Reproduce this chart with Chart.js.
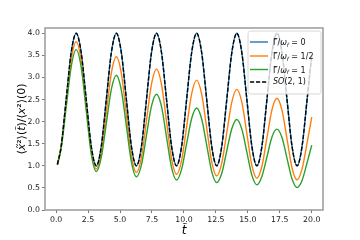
<!DOCTYPE html>
<html>
<head>
<meta charset="utf-8">
<script src="https://cdn.jsdelivr.net/npm/chart.js@4.4.0/dist/chart.umd.min.js"></script>
<style>
    html, body { margin: 0; padding: 0; background: #fff; }
    #wrap { width: 360px; height: 240px; }
</style>
</head>
<body>
<div id="wrap"><canvas id="lineChart" width="360" height="240"></canvas></div>
<script>
// sample times (t tilde)
var tVals = [0.1, 0.393, 0.785, 1.178, 1.571, 1.963, 2.356, 2.749, 3.142,
    3.534, 3.927, 4.32, 4.712, 5.105, 5.498, 5.89, 6.283,
    6.676, 7.069, 7.461, 7.854, 8.247, 8.639, 9.032, 9.425,
    9.817, 10.21, 10.603, 10.996, 11.388, 11.781, 12.174, 12.566,
    12.959, 13.352, 13.744, 14.137, 14.53, 14.923, 15.315, 15.708,
    16.101, 16.493, 16.886, 17.279, 17.671, 18.064, 18.457, 18.85,
    19.242, 19.635, 20.0];

// Gamma/omega_f = 0
var gamma0Vals = [1.03, 1.44, 2.5, 3.56, 4.0, 3.56, 2.5, 1.44, 1.0,
    1.44, 2.5, 3.56, 4.0, 3.56, 2.5, 1.44, 1.0,
    1.44, 2.5, 3.56, 4.0, 3.56, 2.5, 1.44, 1.0,
    1.44, 2.5, 3.56, 4.0, 3.56, 2.5, 1.44, 1.0,
    1.44, 2.5, 3.56, 4.0, 3.56, 2.5, 1.44, 1.0,
    1.44, 2.5, 3.56, 4.0, 3.56, 2.5, 1.44, 1.0,
    1.44, 2.5, 3.5];

// Gamma/omega_f = 1/2
var gammaHalfVals = [1.03, 1.41, 2.41, 3.40, 3.81, 3.39, 2.37, 1.35, 0.93,
    1.30, 2.20, 3.10, 3.47, 3.09, 2.16, 1.23, 0.85,
    1.19, 2.02, 2.85, 3.19, 2.84, 2.00, 1.16, 0.81,
    1.12, 1.88, 2.63, 2.94, 2.62, 1.86, 1.09, 0.77,
    1.06, 1.75, 2.44, 2.73, 2.44, 1.73, 1.01, 0.72,
    0.99, 1.63, 2.27, 2.53, 2.26, 1.61, 0.95, 0.68,
    0.93, 1.52, 2.1];

// Gamma/omega_f = 1
var gammaOneVals = [1.03, 1.39, 2.32, 3.24, 3.63, 3.23, 2.25, 1.27, 0.87,
    1.19, 1.96, 2.73, 3.05, 2.71, 1.90, 1.09, 0.75,
    1.02, 1.69, 2.35, 2.62, 2.34, 1.65, 0.96, 0.68,
    0.92, 1.50, 2.07, 2.31, 2.06, 1.47, 0.87, 0.62,
    0.83, 1.34, 1.84, 2.05, 1.83, 1.31, 0.79, 0.57,
    0.76, 1.20, 1.65, 1.83, 1.64, 1.17, 0.70, 0.51,
    0.67, 1.07, 1.47];

// SO(2,1) prediction, sits right on top of the undamped curve
var so21Vals = [1.03, 1.44, 2.5, 3.56, 4.0, 3.56, 2.5, 1.44, 1.0,
    1.44, 2.5, 3.56, 4.0, 3.56, 2.5, 1.44, 1.0,
    1.44, 2.5, 3.56, 4.0, 3.56, 2.5, 1.44, 1.0,
    1.44, 2.5, 3.56, 4.0, 3.56, 2.5, 1.44, 1.0,
    1.44, 2.5, 3.56, 4.0, 3.56, 2.5, 1.44, 1.0,
    1.44, 2.5, 3.56, 4.0, 3.56, 2.5, 1.44, 1.0,
    1.44, 2.5, 3.5];

// *..* = italic, _*..* = italic subscript
var seriesLabels = ['\u0393\u0303/*\u03c9*_*f* = 0', '\u0393\u0303/*\u03c9*_*f* = 1/2',
    '\u0393\u0303/*\u03c9*_*f* = 1', '*SO*(2, 1)'];
var yTitle = '\u27e8*x\u0303*\u00b2\u27e9(*t\u0303*)/\u27e8*x*\u00b2\u27e9(0)';
var xTitle = '*t\u0303*';
var xTickStep = 2.5;
var yTickStep = 0.5;

var FONT = 'DejaVu Sans';

function parseRuns(str) {
    var out = [], re = /(_?)\*([^*]+)\*|([^*_]+)/g, m;
    while ((m = re.exec(str))) {
        if (m[3]) out.push({ t: m[3], it: false, sub: false });
        else out.push({ t: m[2], it: true, sub: m[1] === '_' });
    }
    return out;
}
function runFont(r, size) {
    return (r.it ? 'italic ' : '') + (r.sub ? size * 0.7 : size) + 'px "' + FONT + '"';
}
function runsWidth(ctx, runs, size) {
    var w = 0;
    runs.forEach(function (r) { ctx.font = runFont(r, size); w += ctx.measureText(r.t).width; });
    return w;
}
function drawRuns(ctx, runs, x, y, size) {
    runs.forEach(function (r) {
        ctx.font = runFont(r, size);
        ctx.fillText(r.t, x, r.sub ? y + size * 0.28 : y);
        x += ctx.measureText(r.t).width;
    });
}

var decorPlugin = {
    id: 'decor',
    afterDraw: function (chart) {
        var ctx = chart.ctx, a = chart.chartArea;
        ctx.save();

        // frame all round, like matplotlib spines
        ctx.strokeStyle = '#9a9a9a';
        ctx.lineWidth = 1.5;
        ctx.strokeRect(a.left, a.top, a.right - a.left, a.bottom - a.top);

        // legend box, top right inside the axes
        var x0 = a.right - 75, y0 = a.top + 3, w = 73, h = 63, r = 2.5;
        ctx.beginPath();
        ctx.moveTo(x0 + r, y0);
        ctx.lineTo(x0 + w - r, y0); ctx.quadraticCurveTo(x0 + w, y0, x0 + w, y0 + r);
        ctx.lineTo(x0 + w, y0 + h - r); ctx.quadraticCurveTo(x0 + w, y0 + h, x0 + w - r, y0 + h);
        ctx.lineTo(x0 + r, y0 + h); ctx.quadraticCurveTo(x0, y0 + h, x0, y0 + h - r);
        ctx.lineTo(x0, y0 + r); ctx.quadraticCurveTo(x0, y0, x0 + r, y0);
        ctx.closePath();
        ctx.fillStyle = 'rgba(255,255,255,0.8)';
        ctx.fill();
        ctx.strokeStyle = '#d6d6d6';
        ctx.lineWidth = 1;
        ctx.stroke();

        var rows = [11, 25, 38.5, 51];
        ctx.textBaseline = 'middle';
        chart.data.datasets.forEach(function (ds, i) {
            var yy = y0 + rows[i];
            ctx.beginPath();
            ctx.setLineDash(ds.borderDash || []);
            ctx.strokeStyle = ds.borderColor;
            ctx.lineWidth = ds.borderWidth;
            ctx.moveTo(x0 + 2, yy);
            ctx.lineTo(x0 + 20, yy);
            ctx.stroke();
            ctx.setLineDash([]);
            ctx.fillStyle = '#111';
            drawRuns(ctx, parseRuns(ds.label), x0 + 25, yy + (i < 3 ? 1 : 0), 8);
        });

        // axis titles
        ctx.fillStyle = '#000';
        var yr = parseRuns(yTitle);
        var yw = runsWidth(ctx, yr, 11);
        ctx.save();
        ctx.translate(a.left - 23, (a.top + a.bottom) / 2);
        ctx.rotate(-Math.PI / 2);
        drawRuns(ctx, yr, -yw / 2, 0, 11);
        ctx.restore();

        var xr = parseRuns(xTitle);
        var xw = runsWidth(ctx, xr, 12);
        drawRuns(ctx, xr, (a.left + a.right) / 2 - xw / 2, a.bottom + 21, 12);

        ctx.restore();
    }
};

function pts(ys) {
    return tVals.map(function (t, i) { return { x: t, y: ys[i] }; });
}

var tickFont = { family: FONT, size: 7.8 };

var ctx = document.getElementById('lineChart').getContext('2d');
var chart = new Chart(ctx, {
    type: 'line',
    data: {
        datasets: [
            { label: seriesLabels[0], data: pts(gamma0Vals), borderColor: '#1f77b4', borderWidth: 1.4, order: 4 },
            { label: seriesLabels[1], data: pts(gammaHalfVals), borderColor: '#ff7f0e', borderWidth: 1.4, order: 3 },
            { label: seriesLabels[2], data: pts(gammaOneVals), borderColor: '#2ca02c', borderWidth: 1.4, order: 2 },
            { label: seriesLabels[3], data: pts(so21Vals), borderColor: '#000000', borderWidth: 1.4, borderDash: [4.2, 1.8], order: 1 }
        ]
    },
    options: {
        responsive: false,
        animation: false,
        devicePixelRatio: 1,
        layout: { padding: { left: 12, right: 37, top: 28, bottom: 0 } },
        elements: {
            point: { radius: 0 },
            line: { fill: false, cubicInterpolationMode: 'monotone' }
        },
        plugins: {
            legend: { display: false },
            tooltip: { enabled: false }
        },
        scales: {
            x: {
                type: 'linear',
                min: -0.87,
                max: 20.88,
                afterFit: function (s) { s.height = 30; },
                border: { display: false },
                grid: { drawOnChartArea: false, drawTicks: true, tickLength: 3, color: '#555', lineWidth: 0.8 },
                ticks: {
                    stepSize: xTickStep, includeBounds: false, autoSkip: false, maxRotation: 0,
                    padding: 2, color: '#1a1a1a', font: tickFont,
                    callback: function (v) { return v.toFixed(1); }
                }
            },
            y: {
                min: 0,
                max: 4.12,
                afterFit: function (s) { s.width = 33; },
                border: { display: false },
                grid: { drawOnChartArea: false, drawTicks: true, tickLength: 3, color: '#555', lineWidth: 0.8 },
                ticks: {
                    stepSize: yTickStep, includeBounds: false,
                    padding: 2, color: '#1a1a1a', font: tickFont,
                    callback: function (v) { return v.toFixed(1); }
                }
            }
        }
    },
    plugins: [decorPlugin]
});
</script>
</body>
</html>
